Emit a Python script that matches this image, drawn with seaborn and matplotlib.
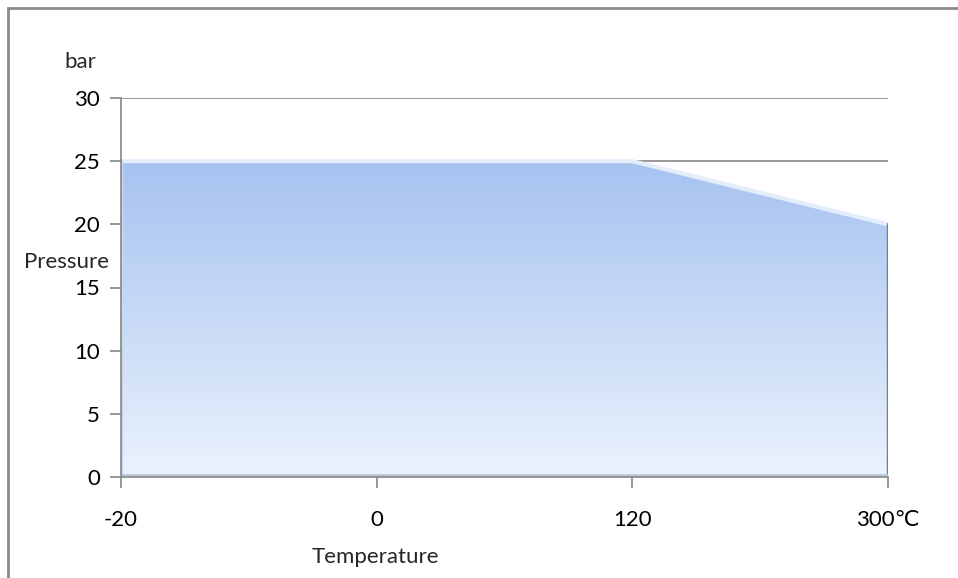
import matplotlib
matplotlib.use("Agg")
import matplotlib.pyplot as plt
import seaborn as sns
import numpy as np
import pandas as pd
from matplotlib.patches import Polygon, Rectangle

# chart data
temperatures = ["-20", "0", "120", "300℃"]
pressure = [25, 25, 25, 20]
y_ticks = [0, 5, 10, 15, 20, 25, 30]

W, H = 958, 578
sns.set_style("white")
plt.rcParams["font.family"] = ["Lato", "DejaVu Sans"]

fig = plt.figure(figsize=(W / 100, H / 100), dpi=100)
# plot area in pixels: x 121..888, y 98..477
ax = fig.add_axes([121 / W, (H - 477) / H, (888 - 121) / W, (477 - 98) / H])

df = pd.DataFrame({"pos": np.arange(len(temperatures)), "pressure": pressure})

# gridlines under the area
for t in y_ticks[1:]:
    ax.axhline(t, color="#868686", lw=1.2, zorder=0)

# gradient filled area
poly_pts = [(0, 0)] + list(zip(df["pos"], df["pressure"])) + [(df["pos"].iloc[-1], 0)]
clip = Polygon(poly_pts, closed=True, facecolor="none", edgecolor="none")
ax.add_patch(clip)
top_c = np.array([0.65, 0.76, 0.94])
bot_c = np.array([0.92, 0.95, 0.99])
grad = np.linspace(0, 1, 256)[:, None]
img = top_c * (1 - grad[..., None]) + bot_c * grad[..., None]
img = np.repeat(img, 2, axis=1)
im = ax.imshow(img, extent=[0, len(temperatures) - 1, 0, max(pressure)],
               aspect="auto", origin="upper", zorder=1)
im.set_clip_path(clip)

# bevel highlights
sns.lineplot(data=df, x="pos", y="pressure", ax=ax, color="#e4eefb", lw=3, zorder=2)
ax.plot([df["pos"].iloc[-1]] * 2, [0, pressure[-1]], color="#6d7f9e", lw=2.5, zorder=2)
ax.plot([0, 0], [0, pressure[0]], color="#c9d8f2", lw=2.5, zorder=2)
ax.plot([0, df["pos"].iloc[-1]], [0.15, 0.15], color="#b9c6dc", lw=2, zorder=2)

ax.set_xlim(0, len(temperatures) - 1)
ax.set_ylim(0, 30)
ax.set_xticks(df["pos"])
ax.set_xticklabels(temperatures)
ax.set_yticks(y_ticks)
ax.tick_params(axis="both", which="both", direction="out", length=8, width=1.2,
               color="#868686", labelsize=16, labelcolor="black", pad=7)
ax.tick_params(axis="x", pad=16)
ax.tick_params(left=True, bottom=True)
for s in ["top", "right"]:
    ax.spines[s].set_visible(False)
for s in ["left", "bottom"]:
    ax.spines[s].set_color("#868686")
    ax.spines[s].set_linewidth(1.2)
ax.set_xlabel("")
ax.set_ylabel("")

fig.text(80 / W, 1 - 62 / H, "bar", ha="center", va="center", fontsize=16)
fig.text(67 / W, 1 - 262 / H, "Pressure", ha="center", va="center", fontsize=16)
fig.text(375 / W, 1 - 557 / H, "Temperature", ha="center", va="center", fontsize=16)

# outer chart frame (cropped on the right and bottom)
fig.patches.append(Rectangle((8 / W, -0.1), 1.2, 1 - 8 / H + 0.1,
                             transform=fig.transFigure, fill=False,
                             edgecolor="#8a8a8a", lw=2))

fig.savefig("out.png", dpi=100)
